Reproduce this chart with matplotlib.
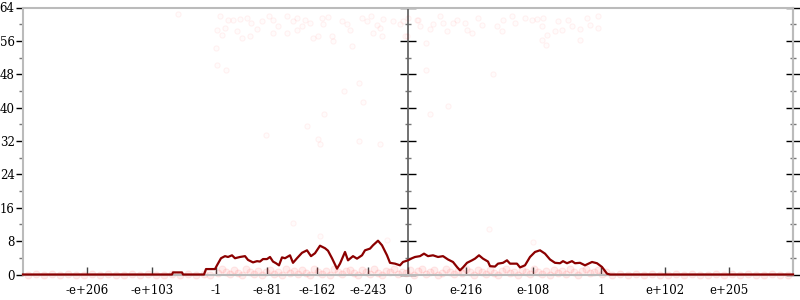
import matplotlib
matplotlib.use("Agg")
import matplotlib.pyplot as plt

# ---- data (ordinal x position, 0 = value zero; y = bits of error) ----
tick_pos = [-321, -256, -192, -141, -91, -40, 0, 58, 125, 193, 257, 321]
tick_labels = ["-e+206", "-e+103", "-1", "-e-81", "-e-162", "-e-243",
               "0", "e-216", "e-108", "1", "e+102", "e+205"]
y_major = [0, 8, 16, 24, 32, 40, 48, 56, 64]
y_minor = [4, 12, 20, 28, 36, 44, 52, 60]

line_x = [-385, -236, -235, -226, -225, -204, -202, -193, -191, -187,
          -183, -180, -176, -173, -168, -163, -160, -155, -151, -148,
          -145, -141, -138, -135, -132, -129, -126, -123, -118, -115,
          -111, -106, -101, -97, -93, -88, -83, -80, -76, -71,
          -68, -63, -60, -55, -51, -46, -43, -38, -35, -30,
          -26, -21, -18, -13, -8, -5, 0, 4, 7, 12,
          16, 20, 25, 30, 35, 40, 45, 49, 52, 55,
          59, 64, 67, 71, 75, 80, 82, 87, 90, 95,
          99, 102, 109, 112, 117, 122, 127, 132, 137, 142,
          147, 152, 155, 159, 164, 167, 172, 177, 184, 189,
          194, 199, 202, 385]
line_y = [0, 0, 0.5, 0.5, 0, 0, 1.3, 1.3, 2.2, 3.9,
          4.4, 4.2, 4.6, 3.9, 4.2, 4.4, 3.5, 2.9, 3.2, 3.1,
          3.7, 3.7, 4.2, 3.1, 2.7, 2.2, 4.1, 3.9, 4.6, 2.8,
          3.9, 5.2, 5.8, 4.4, 5.1, 6.9, 6.3, 5.7, 3.9, 1.4,
          2.6, 5.4, 3.4, 4.4, 3.8, 4.6, 5.8, 6.2, 7.0, 8.1,
          7.0, 4.6, 2.8, 2.6, 2.2, 3.0, 3.4, 3.9, 4.2, 4.4,
          5.0, 4.4, 4.6, 4.2, 4.4, 3.6, 3.0, 1.8, 1.0, 1.7,
          2.8, 3.4, 3.8, 4.6, 3.8, 3.1, 2.0, 1.9, 2.6, 2.8,
          3.4, 2.6, 2.6, 1.7, 2.2, 4.2, 5.4, 5.8, 5.0, 3.6,
          2.8, 2.7, 3.2, 2.7, 3.2, 2.7, 2.8, 2.2, 3.0, 2.7,
          1.8, 0.2, 0, 0]

# scattered samples: top cluster and sparse mid-range points
pts_x = [-188, -180, -175, -168, -161, -157, -171, -166, -158, -151,
         -146, -139, -135, -135, -130, -121, -121, -115, -111, -106,
         -103, -98, -95, -90, -86, -85, -80, -76, -75, -66,
         -61, -58, -46, -41, -37, -31, -28, -25, -15, -8,
         -1, 9, -35, -26, -111, -183, -5, 0, -3, 10,
         12, 22, 25, 32, 35, 39, 45, 49, 57, 59,
         64, 70, 74, 89, 94, 95, 104, 107, 117, 124,
         129, 134, 135, 139, 147, 150, 154, 160, 164, 172,
         179, 182, 190, 190, 18, 18, 85, 40, 22, 134,
         138, 172, -142, -101, -84, -64, -49, -45, -56, -90,
         -49, -28, -88, -191, -192, -191, -182, -186, -230, -115,
         -88, -21, 81, 125]
pts_y = [61.9, 60.9, 61.1, 61.2, 61.5, 60.3, 58.3, 56.8, 57.1, 58.8,
         60.7, 62.0, 60.9, 58.0, 59.6, 61.9, 57.9, 60.7, 61.5, 59.5,
         61.1, 60.3, 56.8, 57.2, 61.5, 60.1, 61.7, 57.1, 55.9, 60.7,
         60.1, 58.7, 61.5, 60.7, 62.0, 59.9, 59.1, 61.2, 60.7, 60.1,
         57.1, 60.9, 58.0, 57.1, 58.7, 59.1, 60.7, 61.5, 57.1, 60.9,
         59.5, 58.8, 60.1, 61.9, 60.4, 58.3, 60.3, 61.1, 60.4, 58.5,
         57.9, 61.5, 59.9, 59.6, 58.3, 61.1, 61.9, 60.3, 61.5, 61.1,
         61.2, 59.6, 61.5, 57.5, 58.3, 60.7, 58.7, 61.1, 59.5, 58.8,
         61.5, 59.9, 61.9, 59.1, 55.6, 49.1, 48.1, 40.3, 38.4, 56.3,
         55.0, 56.3, 33.5, 35.6, 38.4, 44.0, 45.9, 41.3, 54.7, 32.4,
         32.0, 31.4, 31.3, 58.5, 54.3, 50.1, 48.9, 57.3, 62.5, 12.4,
         9.3, 8.2, 10.8, 7.8]

# low-error band samples
low_x = [-380, -372, -364, -356, -348, -340, -332, -324, -316, -308, -300, -292,
         -284, -276, -268, -260, -252, -244, -236, -228, -220, -212, -204, -198,
         -190, -186, -182, -178, -174, -170, -166, -162, -158, -154, -150, -146,
         -142, -138, -134, -130, -126, -122, -118, -114, -110, -106, -102, -98,
         -94, -90, -86, -82, -78, -74, -70, -66, -62, -58, -54, -50, -46, -42,
         -38, -34, -30, -26, -22, -18, -14, -10, -6, -2, 2, 6, 10, 14, 18, 22,
         26, 30, 34, 38, 42, 46, 50, 54, 58, 62, 66, 70, 74, 78, 82, 86, 90,
         94, 98, 102, 106, 110, 114, 118, 122, 126, 130, 134, 138, 142, 146,
         150, 154, 158, 162, 166, 170, 174, 178, 182, 186, 190, 194, 198,
         204, 212, 220, 228, 236, 244, 252, 260, 268, 276, 284, 292, 300, 308,
         316, 324, 332, 340, 348, 356, 364, 372, 380]
low_y = [0.0, 0.1, 0.0, 0.2, 0.0, 0.1, 0.0, 0.0, 0.2, 0.0, 0.1, 0.0,
         0.0, 0.2, 0.0, 0.1, 0.0, 0.0, 0.1, 0.0, 0.2, 0.0, 0.1, 0.0,
         0.3, 1.2, 0.5, 0.1, 1.0, 0.4, 0.0, 1.3, 0.6, 0.2, 0.9, 0.0,
         0.5, 1.1, 0.2, 0.7, 0.0, 1.4, 0.3, 0.8, 0.1, 1.0, 0.4, 0.0,
         1.2, 0.6, 0.2, 0.9, 0.0, 1.3, 0.5, 0.1, 0.8, 1.1, 0.3, 0.0,
         1.0, 0.6, 0.2, 1.3, 0.4, 0.0, 0.9, 0.5, 1.2, 0.1, 0.7, 0.3,
         1.1, 0.0, 0.8, 1.4, 0.2, 0.6, 1.0, 0.0, 0.4, 1.2, 0.7, 0.1, 0.9,
         0.3, 1.3, 0.5, 0.0, 1.0, 0.6, 0.2, 1.1, 0.4, 0.0, 0.8, 1.2, 0.3,
         0.7, 0.0, 1.0, 0.5, 0.1, 1.3, 0.6, 0.2, 0.9, 0.0, 1.1, 0.4,
         0.8, 0.2, 1.2, 0.5, 0.0, 0.9, 1.4, 0.3, 0.7, 1.0, 0.2, 0.6,
         0.0, 0.1, 0.0, 0.2, 0.0, 0.1, 0.0, 0.0, 0.2, 0.0, 0.1, 0.0, 0.0,
         0.1, 0.0, 0.2, 0.0, 0.1, 0.0, 0.0, 0.1, 0.0, 0.0]

# ---- figure ----
plt.rcParams["font.family"] = ["DejaVu Serif"]
fig = plt.figure(figsize=(8, 3), dpi=100)
ax = fig.add_axes([23 / 800, 25.5 / 300, 770 / 800, 267 / 300])

ax.scatter(pts_x, pts_y, s=14, marker="o", facecolor=(1, 0, 0, 0.015),
           edgecolor=(1, 0, 0, 0.05), linewidths=0.8, zorder=2, clip_on=False)
ax.scatter(low_x, low_y, s=26, marker="o", facecolor=(1, 0, 0, 0.07),
           edgecolor=(1, 0, 0, 0.07), linewidths=0.8, zorder=2, clip_on=False)
ax.plot(line_x, line_y, color="#8b0000", lw=1.6, zorder=4, clip_on=False,
        solid_joinstyle="round")

ax.set_xlim(-385, 385)
ax.set_ylim(0, 64)

for side in ["left", "right", "top", "bottom"]:
    ax.spines[side].set_color("#bbbbbb")
    ax.spines[side].set_linewidth(1.5)

ax.set_xticks(tick_pos)
ax.set_xticklabels(tick_labels, fontsize=8.5)
ax.tick_params(axis="x", direction="in", length=6, width=1, color="#444444", pad=7)

ax.set_yticks(y_major)
ax.set_yticks(y_minor, minor=True)
ax.set_yticklabels([str(v) for v in y_major], fontsize=8.5)
ax.tick_params(axis="y", which="major", direction="out", length=5, width=1,
               color="black", pad=1)
ax.tick_params(axis="y", which="minor", direction="out", length=3, width=1,
               color="#777777")

# right axis ticks
axr = ax.secondary_yaxis("right")
axr.set_yticks(y_major)
axr.set_yticks(y_minor, minor=True)
axr.set_yticklabels([])
axr.tick_params(which="major", direction="inout", length=10, width=1,
                color="black", labelright=False, labelleft=False)
axr.tick_params(which="minor", direction="inout", length=5, width=1,
                color="#777777", labelright=False, labelleft=False)
axr.spines["right"].set_color("#bbbbbb")
axr.spines["right"].set_linewidth(1.5)

# middle (zero) axis with ticks both sides
axm = ax.secondary_yaxis(0.5)
axm.set_yticks(y_major)
axm.set_yticks(y_minor, minor=True)
axm.set_yticklabels([])
axm.tick_params(which="major", direction="inout", length=11, width=1,
                color="black", labelleft=False, labelright=False)
axm.tick_params(which="minor", direction="inout", length=5, width=1,
                color="#777777", labelleft=False, labelright=False)
for s in axm.spines.values():
    s.set_color("#666666")
    s.set_linewidth(1.3)

fig.savefig("out.png", dpi=100)
